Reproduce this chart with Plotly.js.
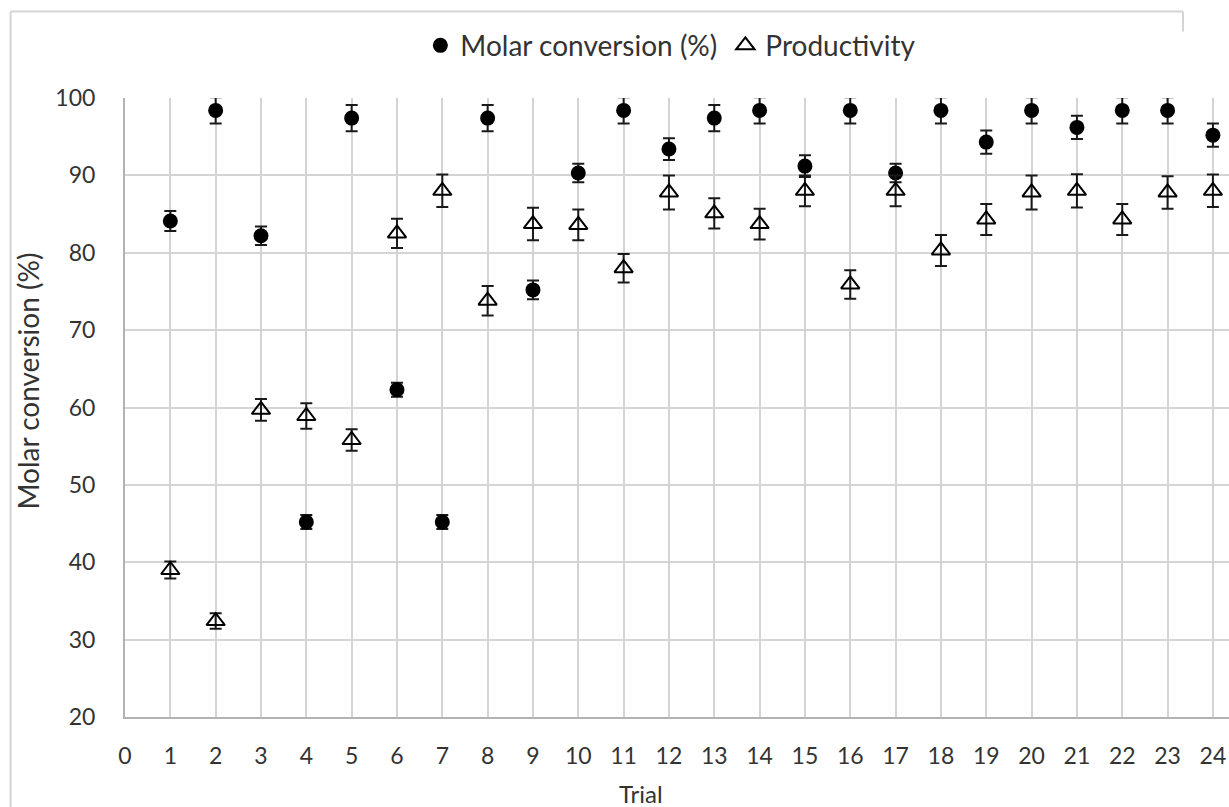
<!DOCTYPE html>
<html>
<head>
<meta charset="utf-8">
<script src="https://cdn.plot.ly/plotly-3.0.1.min.js"></script>
<style>html,body{margin:0;padding:0;background:#fff;overflow:hidden}#chart{width:1229px;height:807px}</style>
</head>
<body>
<div id="chart"></div>
<script>
// Data
var trials = [1,2,3,4,5,6,7,8,9,10,11,12,13,14,15,16,17,18,19,20,21,22,23,24];
var molarConversion = [84.1,98.4,82.2,45.2,97.4,62.3,45.2,97.4,75.2,90.3,98.4,93.4,97.4,98.4,91.2,98.4,90.3,98.4,94.3,98.4,96.2,98.4,98.4,95.2];
var molarError = [1.3,1.7,1.2,0.9,1.7,0.9,0.9,1.7,1.2,1.2,1.7,1.4,1.7,1.7,1.4,1.7,1.2,1.7,1.5,1.7,1.5,1.7,1.7,1.5];
var productivity = [39.0,32.4,59.7,58.9,55.8,82.5,88.0,73.8,83.7,83.6,78.0,87.8,85.1,83.7,88.0,75.9,88.0,80.3,84.3,87.8,88.0,84.3,87.8,88.0];
var productivityError = [1.1,1.0,1.4,1.65,1.4,1.9,2.1,1.9,2.1,2.0,1.85,2.2,1.95,2.0,2.0,1.85,2.0,2.0,2.0,2.2,2.15,2.0,2.1,2.1];
var xTickVals = [0,1,2,3,4,5,6,7,8,9,10,11,12,13,14,15,16,17,18,19,20,21,22,23,24];
var yTickVals = [20,30,40,50,60,70,80,90,100];
var seriesNames = ['Molar conversion (%)', 'Productivity'];
var xTitle = 'Trial';
var yTitle = 'Molar conversion (%)';

// Layout geometry (pixels)
var W = 1229, H = 807;
var L = 124.5, R = 0, T = 98.3, B = H - 716.7;
var pw = W - L - R, ph = H - T - B;
function px(X){ return (X - L) / pw; }
function py(Y){ return (H - B - Y) / ph; }

var FONT = 'Lato, "Open Sans", sans-serif';
var TXT = '#333333';
var GRID = '#d4d4d4';

var traces = [
  {
    x: trials, y: molarConversion, name: seriesNames[0], type: 'scatter', mode: 'markers',
    marker: {symbol: 'circle', size: 15, color: '#000000'},
    error_y: {type: 'data', array: molarError, visible: true, color: '#1a1a1a', thickness: 2, width: 6}
  },
  {
    x: trials, y: productivity, name: seriesNames[1], type: 'scatter', mode: 'markers',
    marker: {symbol: 'triangle-up-open', size: 16, color: '#000000', line: {width: 2, color: '#000000'}},
    error_y: {type: 'data', array: productivityError, visible: true, color: '#1a1a1a', thickness: 2, width: 6}
  }
];

var layout = {
  width: W, height: H,
  margin: {l: L, r: R, t: T, b: B, pad: 0},
  paper_bgcolor: '#ffffff', plot_bgcolor: '#ffffff',
  font: {family: FONT, color: TXT, size: 22},
  showlegend: true,
  legend: {
    orientation: 'h', x: px(420), xanchor: 'left', y: py(46), yanchor: 'middle',
    font: {family: FONT, size: 28, color: TXT}, itemwidth: 30, bgcolor: 'rgba(0,0,0,0)',
    entrywidth: 260, entrywidthmode: 'pixels'
  },
  xaxis: {
    range: [0, (W - L) / 45.35], tickmode: 'array', tickvals: xTickVals, ticktext: xTickVals.map(String),
    showgrid: true, gridcolor: GRID, gridwidth: 2,
    showline: true, linecolor: '#b3b3b3', linewidth: 2,
    zeroline: false, ticks: 'outside', ticklen: 17, tickcolor: 'rgba(0,0,0,0)',
    tickfont: {family: FONT, size: 23, color: TXT}, fixedrange: true
  },
  yaxis: {
    range: [20, 100], tickmode: 'array', tickvals: yTickVals, ticktext: yTickVals.map(String),
    showgrid: true, gridcolor: GRID, gridwidth: 2,
    showline: true, linecolor: '#b3b3b3', linewidth: 2,
    zeroline: false, ticks: 'outside', ticklen: 23, tickcolor: 'rgba(0,0,0,0)',
    tickfont: {family: FONT, size: 23, color: TXT}, fixedrange: true
  },
  annotations: [
    {text: yTitle, xref: 'paper', yref: 'paper', x: px(27), y: py(381), xanchor: 'center', yanchor: 'middle',
     textangle: -90, showarrow: false, font: {family: FONT, size: 28, color: TXT}},
    {text: xTitle, xref: 'paper', yref: 'paper', x: px(641), y: py(793), xanchor: 'center', yanchor: 'middle',
     showarrow: false, font: {family: FONT, size: 24, color: TXT}}
  ],
  shapes: [
    {type: 'line', xref: 'paper', yref: 'paper', x0: px(10), x1: px(10), y0: py(12), y1: py(H + 5), line: {color: GRID, width: 2}},
    {type: 'line', xref: 'paper', yref: 'paper', x0: px(10), x1: px(1183), y0: py(12), y1: py(12), line: {color: GRID, width: 2}},
    {type: 'line', xref: 'paper', yref: 'paper', x0: px(1183), x1: px(1183), y0: py(12), y1: py(32), line: {color: GRID, width: 2}}
  ]
};

Plotly.newPlot('chart', traces, layout, {displayModeBar: false, staticPlot: true});
</script>
</body>
</html>
